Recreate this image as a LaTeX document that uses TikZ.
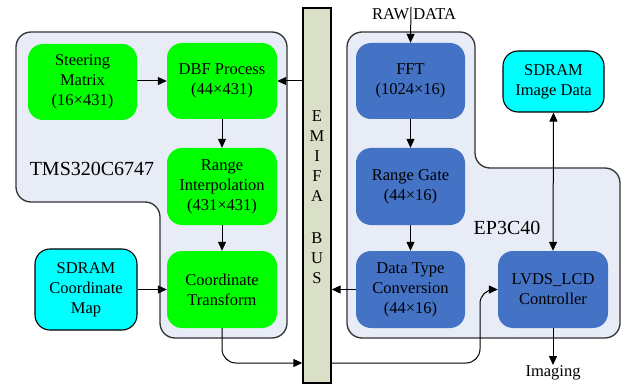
\documentclass[tikz,border=0pt]{standalone}
\usepackage{fontspec}
\setmainfont{Liberation Serif}
\usetikzlibrary{arrows.meta}
\definecolor{contfill}{HTML}{E7ECF6}
\definecolor{busfill}{HTML}{DADFC8}
\definecolor{gfill}{HTML}{00FF00}
\definecolor{cfill}{HTML}{00FFFF}
\definecolor{bfill}{HTML}{4472C4}
\tikzset{
  cont/.style={fill=contfill,draw=black!80,line width=1.3pt,rounded corners=15pt},
  blk/.style={rectangle,rounded corners=15pt,align=center,inner sep=1pt,
    font=\fontsize{16.5}{20}\selectfont},
  gblk/.style={blk,fill=gfill},
  cblk/.style={blk,fill=cfill,draw=black,line width=1.1pt},
  bblk/.style={blk,fill=bfill},
  lbl/.style={font=\fontsize{20}{24}\selectfont,inner sep=0pt},
  txt/.style={font=\fontsize{16.5}{20}\selectfont,inner sep=0pt},
  arr/.style={line width=1pt,-{Triangle[length=9pt,width=8pt]}},
  arrb/.style={line width=1pt,{Triangle[length=9pt,width=8pt]}-{Triangle[length=9pt,width=8pt]}},
}
\begin{document}
\begin{tikzpicture}[x=1pt,y=-1pt]
\useasboundingbox (0,0) rectangle (627,385);
% containers
\path[cont] (16,32) -- (287,32) -- (287,338) -- (160,338) -- (160,202) -- (16,202) -- cycle;
\path[cont] (347,32) -- (475,32) -- (475,168) -- (620,168) -- (620,338) -- (347,338) -- cycle;
% bus
\node[draw=black,fill=busfill,line width=1.4pt,minimum width=28pt,minimum height=375pt,inner sep=0pt] (bus) at (317,195.5) {};
\node[txt,align=center] (bustxt) at (317,197) {E\\M\\I\\F\\A\\[22pt]B\\U\\S};
% left blocks
\node[gblk,minimum width=109pt,minimum height=76pt] (steer) at (82.5,82) {Steering\\Matrix\\(16×431)};
\node[gblk,minimum width=110pt,minimum height=76pt] (dbf) at (222,81) {DBF Process\\(44×431)};
\node[gblk,minimum width=110pt,minimum height=77pt] (ri) at (222,186.5) {Range\\Interpolation\\(431×431)};
\node[gblk,minimum width=110pt,minimum height=77pt] (ct) at (222,289.5) {Coordinate\\Transform};
\node[cblk,minimum width=102pt,minimum height=81pt] (scm) at (86,289.5) {SDRAM\\Coordinate\\Map};
% right blocks
\node[bblk,minimum width=109pt,minimum height=76pt] (fft) at (410.5,81) {FFT\\(1024×16)};
\node[bblk,minimum width=109pt,minimum height=77pt] (rg) at (410.5,186.5) {Range Gate\\(44×16)};
\node[bblk,minimum width=109pt,minimum height=77pt] (dtc) at (410.5,289.5) {Data Type\\Conversion\\(44×16)};
\node[bblk,minimum width=110pt,minimum height=77pt] (lvds) at (553,289.5) {LVDS\_LCD\\Controller};
\node[cblk,minimum width=101pt,minimum height=61pt] (sid) at (553.5,81.5) {SDRAM\\Image Data};
% labels
\node[lbl] (tms) at (92,168.5) {TMS320C6747};
\node[lbl] (ep) at (507,228) {EP3C40};
\node[txt] (raw) at (414,14) {RAW DATA};
\node[txt,anchor=north] (img) at (553,365) {Imaging};
\coordinate (rawtop) at (411,7);
% connectors
\draw[arr] (steer.east |- dbf) -- (dbf.west);
\draw[arr] (bus.west |- dbf) -- (dbf.east);
\draw[arr] (dbf) -- (ri);
\draw[arr] (ri) -- (ct);
\draw[arr] (scm) -- (ct);
\draw[arr,rounded corners=14pt] (ct.south) |- (bus.west |- 0,363);
\draw[arr,rounded corners=14pt] (bus.east |- 0,363) -| (480,289.5) -- (lvds.west);
\draw[arr] (dtc.west) -- (bus.east |- dtc);
\draw[arr] (rawtop) -- (fft.north);
\draw[arr] (fft) -- (rg);
\draw[arr] (rg) -- (dtc);
\draw[arrb] (sid.south) -- (lvds.north);
\draw[arr] (lvds.south) -- (img.north);
\end{tikzpicture}
\end{document}
